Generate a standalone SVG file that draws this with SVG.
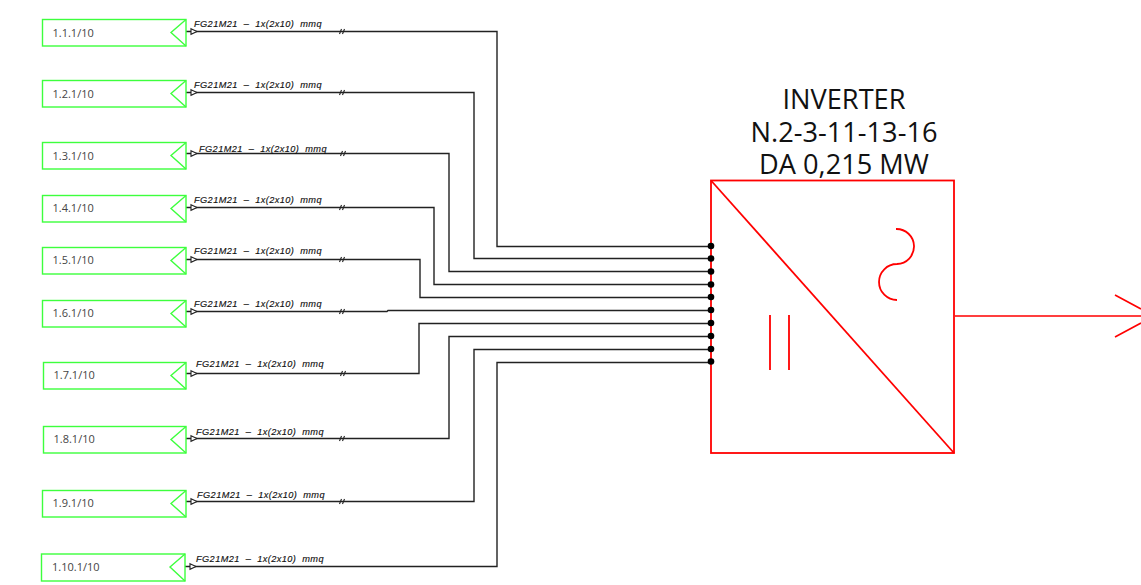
<svg xmlns="http://www.w3.org/2000/svg" width="1141" height="585" viewBox="0 0 1141 585">
<defs>
<style>
.box{fill:#fff;stroke:#3dff3d;stroke-width:1.4}
.tip{fill:none;stroke:#3dff3d;stroke-width:1.4}
.nm{font:11px "Open Sans","Liberation Sans",sans-serif;fill:#444}
.cb{font:italic 9.200px "Liberation Sans",Arial,sans-serif;fill:#111;letter-spacing:.42px;white-space:pre;stroke:#111;stroke-width:.15}
.w{fill:none;stroke:#222;stroke-width:1.400}
.tick{fill:none;stroke:#222;stroke-width:1.100}
.ar{fill:#fff;stroke:#222;stroke-width:1.100}
.r{fill:none;stroke:#f00;stroke-width:1.800}
.title{font:27.200px "Open Sans","Liberation Sans",sans-serif;fill:#111;text-anchor:middle}
</style>
<g id="hash"><path class="tick" d="M-2.500 2.500 L-0.500 -2.500M0.500 2.500 L2.500 -2.500"/></g>
<g id="head"><path class="ar" d="M0 -2.800 L6 0 L0 2.800Z"/></g>
</defs>
<rect width="1141" height="585" fill="#fff"/>
<g id="connectors">
<path class="w" d="M186 31.500H497V246.500H711"/>
<path class="w" d="M186 92.500H474V258.500H711"/>
<path class="w" d="M186 153.500H449V271.500H711"/>
<path class="w" d="M186 207.500H434V284.500H711"/>
<path class="w" d="M186 259.500H420V297.500H711"/>
<path class="w" d="M186 311.500H387L388 310.500H711"/>
<path class="w" d="M186 373.500H419V323.500H711"/>
<path class="w" d="M186 438.500H449V336.500H711"/>
<path class="w" d="M186 501.500H474V349.500H711"/>
<path class="w" d="M185 566.500H497V362.500H711"/>
<use href="#hash" x="342" y="31.500"/><use href="#hash" x="342" y="92.500"/><use href="#hash" x="343" y="153.500"/><use href="#hash" x="342" y="207.500"/><use href="#hash" x="342" y="259.500"/><use href="#hash" x="342" y="311.500"/><use href="#hash" x="343" y="373.500"/><use href="#hash" x="342" y="438.500"/><use href="#hash" x="342" y="501.500"/>
<use href="#head" x="191" y="31.500"/><use href="#head" x="191" y="92.500"/><use href="#head" x="191" y="153.500"/><use href="#head" x="191" y="207.500"/><use href="#head" x="191" y="259.500"/><use href="#head" x="191" y="311.500"/><use href="#head" x="191" y="373.500"/><use href="#head" x="191" y="438.500"/><use href="#head" x="191" y="501.500"/><use href="#head" x="190" y="566.500"/>
<path d="M955 316H1141M1115 295L1141 309M1115 337L1141 323" fill="none" stroke="#f00" stroke-width="1.600"/>
</g>
<g id="s1"><rect class="box" x="42.500" y="19.500" width="143.500" height="26.500"/><path class="tip" d="M186 19.500L171 32.500L186 46"/><text class="nm" x="52.500" y="37">1.1.1/10</text><text class="cb" x="194" y="27">FG21M21  –  1x(2x10)  mmq</text></g>
<g id="s2"><rect class="box" x="42.500" y="80.500" width="143.500" height="26.500"/><path class="tip" d="M186 80.500L171 93.500L186 107"/><text class="nm" x="52.500" y="98">1.2.1/10</text><text class="cb" x="194" y="88">FG21M21  –  1x(2x10)  mmq</text></g>
<g id="s3"><rect class="box" x="42.500" y="142.500" width="143.500" height="26.500"/><path class="tip" d="M186 142.500L171 155.500L186 169"/><text class="nm" x="52.500" y="160">1.3.1/10</text><text class="cb" x="199" y="152">FG21M21  –  1x(2x10)  mmq</text></g>
<g id="s4"><rect class="box" x="42.500" y="195.500" width="143.500" height="26.500"/><path class="tip" d="M186 195.500L171 208.500L186 222"/><text class="nm" x="52.500" y="212">1.4.1/10</text><text class="cb" x="194" y="203">FG21M21  –  1x(2x10)  mmq</text></g>
<g id="s5"><rect class="box" x="42.500" y="247.500" width="143.500" height="26.500"/><path class="tip" d="M186 247.500L171 260.500L186 274"/><text class="nm" x="52.500" y="264">1.5.1/10</text><text class="cb" x="194" y="254">FG21M21  –  1x(2x10)  mmq</text></g>
<g id="s6"><rect class="box" x="42.500" y="300.500" width="143.500" height="26.500"/><path class="tip" d="M186 300.500L171 313.500L186 327"/><text class="nm" x="52.500" y="317">1.6.1/10</text><text class="cb" x="194" y="307">FG21M21  –  1x(2x10)  mmq</text></g>
<g id="s7"><rect class="box" x="43.500" y="362.500" width="142.500" height="26.500"/><path class="tip" d="M186 362.500L171 375.500L186 389"/><text class="nm" x="53.500" y="379">1.7.1/10</text><text class="cb" x="196" y="367">FG21M21  –  1x(2x10)  mmq</text></g>
<g id="s8"><rect class="box" x="43.500" y="426.500" width="142.500" height="26.500"/><path class="tip" d="M186 426.500L171 439.500L186 453"/><text class="nm" x="53.500" y="443">1.8.1/10</text><text class="cb" x="196" y="435">FG21M21  –  1x(2x10)  mmq</text></g>
<g id="s9"><rect class="box" x="42.500" y="490.500" width="143.500" height="26.500"/><path class="tip" d="M186 490.500L171 503.500L186 517"/><text class="nm" x="52.500" y="507">1.9.1/10</text><text class="cb" x="197" y="498">FG21M21  –  1x(2x10)  mmq</text></g>
<g id="s10"><rect class="box" x="41.500" y="554" width="143.500" height="27"/><path class="tip" d="M185 554L170 567L185 581"/><text class="nm" x="52" y="571">1.10.1/10</text><text class="cb" x="196" y="562">FG21M21  –  1x(2x10)  mmq</text></g>
<g id="inverter">
<text class="title" x="844" y="109">INVERTER</text>
<text class="title" x="844" y="142">N.2-3-11-13-16</text>
<text class="title" x="844" y="174">DA 0,215 MW</text>
<rect class="r" x="711" y="180.500" width="243" height="272.500"/>
<path class="r" d="M711 180.500L954 453"/>
<path class="r" d="M770 315V370M789 315V370"/>
<path class="r" d="M896 229A17.500 17.500 0 0 1 897 264A17.500 17.500 0 0 0 897 300"/>
<g fill="#000"><circle cx="711" cy="246" r="3.300"/><circle cx="711" cy="258.500" r="3.300"/><circle cx="711" cy="271.500" r="3.300"/><circle cx="711" cy="284.500" r="3.300"/><circle cx="711" cy="297" r="3.300"/><circle cx="711" cy="310" r="3.300"/><circle cx="711" cy="323" r="3.300"/><circle cx="711" cy="336" r="3.300"/><circle cx="711" cy="349" r="3.300"/><circle cx="711" cy="361.500" r="3.300"/></g>
</g>
</svg>
